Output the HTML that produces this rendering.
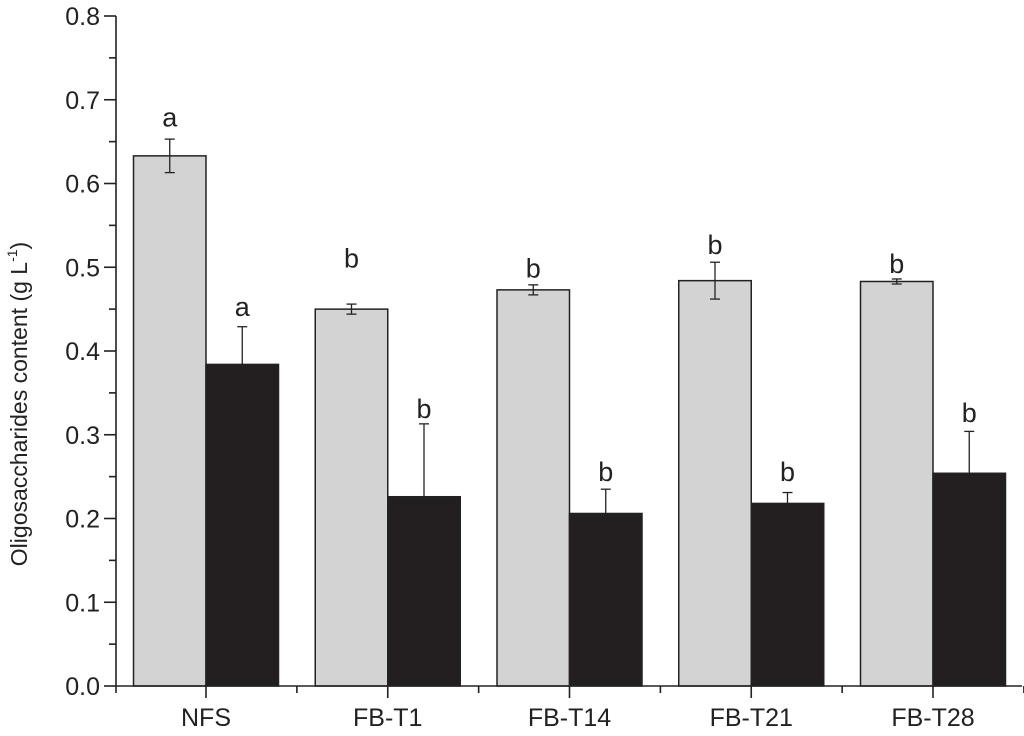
<!DOCTYPE html>
<html><head><meta charset="utf-8"><style>
body{margin:0;background:#fff}
svg{display:block;font-family:"Liberation Sans",sans-serif}
</style></head><body>
<svg id="chart" width="1024" height="736">
<g id="g"></g>
<text transform="translate(27,404) rotate(-90)" text-anchor="middle" font-size="23" fill="#222">Oligosaccharides content (g L<tspan font-size="14" dy="-10">-1</tspan><tspan dy="10">)</tspan></text>
</svg>
<script>
const categories=["NFS","FB-T1","FB-T14","FB-T21","FB-T28"];
const greyValues=[0.633,0.450,0.473,0.484,0.483];
const greyErr=[0.020,0.006,0.006,0.022,0.003];
const blackValues=[0.384,0.226,0.206,0.218,0.254];
const blackErr=[0.045,0.087,0.029,0.013,0.050];
const greyLetters=["a","b","b","b","b"];
const blackLetters=["a","b","b","b","b"];
const greyLetterLevel=[0.668,0.50,0.488,0.516,0.493];
const blackLetterLevel=[0.442,0.32,0.245,0.245,0.315];
const yTicks=[0.0,0.1,0.2,0.3,0.4,0.5,0.6,0.7,0.8];
const NS="http://www.w3.org/2000/svg",g=document.getElementById('g');
const x0=116,x1=1022,yb=686,yt=16;
const y=v=>yb-(v/0.8)*(yb-yt);
const xc=i=>206+i*181.75;
const bw=72.5;
function el(t,a){const e=document.createElementNS(NS,t);for(const k in a)e.setAttribute(k,a[k]);g.appendChild(e);return e;}
function line(x1_,y1_,x2_,y2_,w){return el('line',{x1:x1_,y1:y1_,x2:x2_,y2:y2_,stroke:'#222','stroke-width':w||1.6});}
categories.forEach((c,i)=>{
 const cx=xc(i);
 let r=el('rect',{x:cx-bw,y:y(greyValues[i]),width:bw,height:yb-y(greyValues[i]),fill:'#d3d3d3',stroke:'#222','stroke-width':1.5});
 
 
 r=el('rect',{x:cx,y:y(blackValues[i]),width:bw,height:yb-y(blackValues[i]),fill:'#231f20',stroke:'#222','stroke-width':1.5});
 
 
 const gx=cx-bw/2,bx=cx+bw/2;
 const gt=y(greyValues[i]+greyErr[i]),gbm=y(greyValues[i]-greyErr[i]);
 line(gx,gt,gx,gbm,1.3);line(gx-5,gt,gx+5,gt,1.3);line(gx-5,gbm,gx+5,gbm,1.3);
 const bt=y(blackValues[i]+blackErr[i]);
 line(bx,bt,bx,y(blackValues[i]),1.3);line(bx-5,bt,bx+5,bt,1.3);
 let t=el('text',{x:gx,y:y(greyLetterLevel[i]),'text-anchor':'middle','font-size':27,fill:'#222'});t.textContent=greyLetters[i];
 
 
 t=el('text',{x:bx,y:y(blackLetterLevel[i]),'text-anchor':'middle','font-size':27,fill:'#222'});t.textContent=blackLetters[i];
 
 
 line(cx,yb,cx,yb+12);
 line(cx+90.9,yb,cx+90.9,yb+7);
 t=el('text',{x:cx,y:yb+40,'text-anchor':'middle','font-size':25,fill:'#222'});t.textContent=c;
 
 
});
line(x0,yb,x0,yb+7);
yTicks.forEach((v,i)=>{
 line(x0-12,y(v),x0,y(v));
 if(i<yTicks.length-1)line(x0-7,y(v+0.05),x0,y(v+0.05));
 const t=el('text',{x:x0-16,y:y(v)+9,'text-anchor':'end','font-size':25,fill:'#222'});t.textContent=v.toFixed(1);
 
 
});
let a=line(x0,yt,x0,yb);
a=line(x0,yb,x1,yb);
</script>
</body></html>
